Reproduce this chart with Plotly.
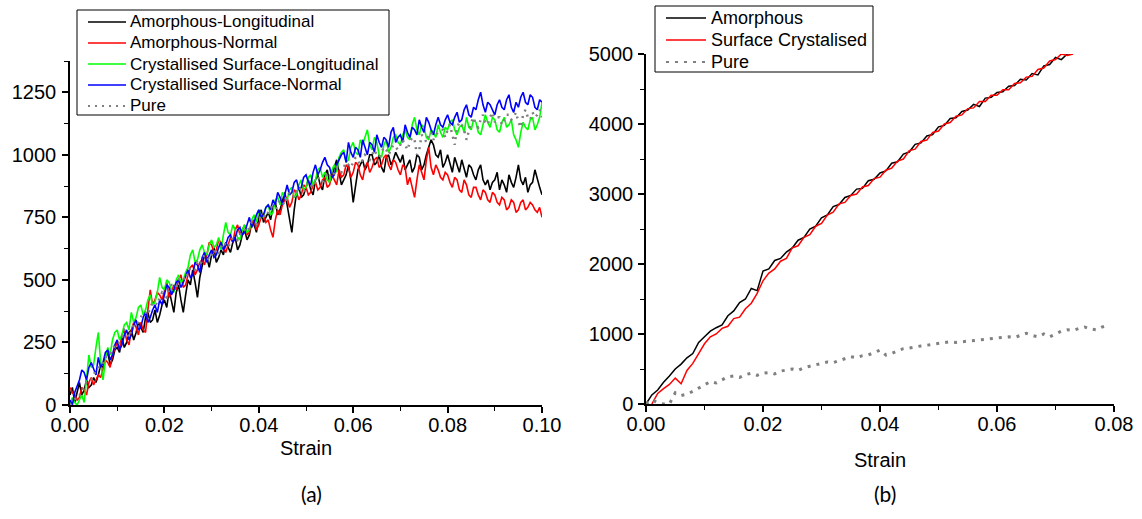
import plotly.graph_objects as go

# ---------------- Panel (a) data (strain step 0.0005) ----------------
strain_a = [
    0.0000, 0.0005, 0.0010, 0.0015, 0.0020, 0.0025, 0.0030, 0.0035, 0.0040, 0.0045,
    0.0050, 0.0055, 0.0060, 0.0065, 0.0070, 0.0075, 0.0080, 0.0085, 0.0090, 0.0095,
    0.0100, 0.0105, 0.0110, 0.0115, 0.0120, 0.0125, 0.0130, 0.0135, 0.0140, 0.0145,
    0.0150, 0.0155, 0.0160, 0.0165, 0.0170, 0.0175, 0.0180, 0.0185, 0.0190, 0.0195,
    0.0200, 0.0205, 0.0210, 0.0215, 0.0220, 0.0225, 0.0230, 0.0235, 0.0240, 0.0245,
    0.0250, 0.0255, 0.0260, 0.0265, 0.0270, 0.0275, 0.0280, 0.0285, 0.0290, 0.0295,
    0.0300, 0.0305, 0.0310, 0.0315, 0.0320, 0.0325, 0.0330, 0.0335, 0.0340, 0.0345,
    0.0350, 0.0355, 0.0360, 0.0365, 0.0370, 0.0375, 0.0380, 0.0385, 0.0390, 0.0395,
    0.0400, 0.0405, 0.0410, 0.0415, 0.0420, 0.0425, 0.0430, 0.0435, 0.0440, 0.0445,
    0.0450, 0.0455, 0.0460, 0.0465, 0.0470, 0.0475, 0.0480, 0.0485, 0.0490, 0.0495,
    0.0500, 0.0505, 0.0510, 0.0515, 0.0520, 0.0525, 0.0530, 0.0535, 0.0540, 0.0545,
    0.0550, 0.0555, 0.0560, 0.0565, 0.0570, 0.0575, 0.0580, 0.0585, 0.0590, 0.0595,
    0.0600, 0.0605, 0.0610, 0.0615, 0.0620, 0.0625, 0.0630, 0.0635, 0.0640, 0.0645,
    0.0650, 0.0655, 0.0660, 0.0665, 0.0670, 0.0675, 0.0680, 0.0685, 0.0690, 0.0695,
    0.0700, 0.0705, 0.0710, 0.0715, 0.0720, 0.0725, 0.0730, 0.0735, 0.0740, 0.0745,
    0.0750, 0.0755, 0.0760, 0.0765, 0.0770, 0.0775, 0.0780, 0.0785, 0.0790, 0.0795,
    0.0800, 0.0805, 0.0810, 0.0815, 0.0820, 0.0825, 0.0830, 0.0835, 0.0840, 0.0845,
    0.0850, 0.0855, 0.0860, 0.0865, 0.0870, 0.0875, 0.0880, 0.0885, 0.0890, 0.0895,
    0.0900, 0.0905, 0.0910, 0.0915, 0.0920, 0.0925, 0.0930, 0.0935, 0.0940, 0.0945,
    0.0950, 0.0955, 0.0960, 0.0965, 0.0970, 0.0975, 0.0980, 0.0985, 0.0990, 0.0995,
    0.1000,
]

amorphous_long = [
    40, 70, 10, 50, 90, 40, 60, 100, 70, 80, 110, 90, 120, 160, 150, 190, 210, 160, 180, 220,
    230, 210, 270, 230, 250, 290, 300, 260, 290, 330, 310, 290, 350, 370, 330, 340, 380, 330, 360, 400,
    420, 390, 460, 410, 370, 450, 480, 420, 370, 440, 500, 480, 540, 490, 430, 510, 560, 600, 590, 550,
    600, 630, 570, 590, 620, 600, 650, 630, 610, 650, 670, 620, 640, 680, 700, 660, 680, 730, 720, 690,
    750, 780, 730, 750, 770, 740, 790, 810, 760, 780, 820, 850, 800, 740, 690, 780, 850, 870, 830, 840,
    870, 900, 860, 840, 900, 920, 880, 860, 920, 940, 890, 910, 950, 980, 930, 880, 900, 920, 960, 900,
    810, 880, 940, 960, 980, 940, 960, 1000, 1000, 960, 970, 1000, 950, 930, 990, 1000, 960, 980, 1010, 990,
    970, 1000, 940, 960, 980, 930, 950, 1000, 990, 940, 960, 1000, 1030, 1060, 1040, 1000, 990, 1020, 950, 970,
    1000, 960, 930, 990, 960, 930, 980, 940, 910, 960, 950, 920, 900, 940, 960, 900, 880, 900, 860, 890,
    900, 930, 860, 900, 880, 850, 920, 890, 870, 910, 960, 900, 880, 910, 850, 880, 890, 940, 900, 870,
    840,
]

amorphous_norm = [
    70, 50, 40, 20, 30, 70, 60, 40, 90, 110, 80, 100, 120, 110, 140, 180, 170, 150, 200, 230,
    250, 220, 280, 300, 260, 240, 300, 330, 310, 280, 330, 300, 290, 380, 460, 400, 420, 450, 440, 420,
    460, 490, 430, 450, 480, 460, 500, 520, 470, 480, 520, 550, 560, 520, 540, 570, 580, 560, 600, 650,
    640, 610, 620, 660, 650, 630, 610, 640, 670, 650, 700, 720, 680, 700, 720, 680, 690, 730, 740, 700,
    720, 750, 760, 730, 740, 700, 670, 740, 780, 760, 800, 820, 830, 790, 810, 860, 850, 820, 840, 880,
    870, 840, 850, 880, 890, 860, 870, 900, 910, 870, 880, 920, 900, 880, 940, 910, 920, 960, 950, 910,
    930, 970, 960, 920, 900, 950, 970, 930, 950, 980, 990, 950, 960, 990, 1000, 960, 940, 980, 970, 940,
    920, 960, 950, 880, 910, 870, 830, 900, 960, 930, 900, 980, 1030, 950, 920, 960, 940, 910, 900, 930,
    920, 890, 870, 910, 900, 860, 850, 900, 880, 840, 830, 870, 870, 840, 820, 860, 850, 820, 810, 850,
    840, 810, 800, 830, 820, 780, 790, 820, 810, 770, 780, 810, 820, 780, 790, 810, 800, 780, 770, 790,
    750,
]

cryst_long = [
    0, 30, 10, 0, 20, 40, 10, 120, 200, 150, 160, 230, 290, 170, 100, 180, 230, 200, 260, 290,
    300, 260, 280, 320, 330, 300, 370, 330, 350, 390, 400, 360, 380, 420, 440, 400, 410, 450, 510, 470,
    460, 500, 490, 460, 450, 500, 520, 490, 500, 530, 550, 600, 620, 570, 580, 620, 640, 610, 600, 640,
    660, 630, 640, 670, 620, 680, 730, 690, 680, 720, 700, 670, 660, 700, 720, 690, 700, 740, 760, 730,
    780, 760, 750, 790, 800, 760, 770, 820, 830, 800, 850, 830, 820, 860, 870, 830, 840, 880, 900, 860,
    870, 910, 920, 880, 900, 940, 950, 910, 930, 900, 890, 940, 960, 930, 990, 1010, 1020, 970, 980, 1030,
    1050, 1010, 1000, 1060, 1040, 1070, 1100, 1040, 1020, 1070, 1050, 1000, 990, 1040, 1060, 1010, 1030, 1070, 1080, 1050,
    1040, 1080, 1100, 1070, 1060, 1120, 1150, 1100, 1080, 1120, 1110, 1070, 1060, 1100, 1090, 1070, 1120, 1090, 1070, 1110,
    1100, 1130, 1140, 1100, 1080, 1110, 1120, 1090, 1150, 1110, 1100, 1140, 1130, 1090, 1080, 1120, 1160, 1130, 1110, 1150,
    1140, 1100, 1090, 1130, 1150, 1110, 1120, 1140, 1080, 1060, 1030, 1090, 1130, 1110, 1100, 1140, 1150, 1100, 1120, 1150,
    1210,
]

cryst_norm = [
    20, 0, 50, 80, 100, 140, 130, 100, 150, 170, 140, 120, 190, 150, 170, 210, 220, 180, 200, 240,
    260, 220, 240, 280, 300, 260, 280, 320, 340, 300, 310, 350, 370, 330, 350, 380, 400, 370, 420, 400,
    440, 480, 470, 440, 460, 490, 500, 470, 490, 520, 540, 510, 520, 570, 560, 530, 590, 610, 570, 600,
    620, 590, 600, 630, 650, 620, 640, 670, 680, 650, 670, 700, 710, 680, 690, 720, 750, 710, 730, 760,
    780, 750, 760, 790, 800, 780, 820, 800, 850, 830, 800, 840, 880, 840, 850, 890, 900, 860, 870, 910,
    920, 890, 880, 930, 960, 920, 940, 970, 990, 960, 950, 910, 920, 960, 980, 1000, 1010, 970, 1050, 1010,
    990, 1030, 1020, 990, 1060, 1030, 1000, 1050, 1040, 1010, 1080, 1050, 1030, 1070, 1060, 1030, 1090, 1110, 1050, 1070,
    1080, 1050, 1120, 1090, 1070, 1110, 1100, 1080, 1140, 1110, 1090, 1150, 1130, 1100, 1080, 1120, 1150, 1120, 1110, 1140,
    1160, 1130, 1120, 1150, 1170, 1130, 1140, 1180, 1200, 1160, 1150, 1190, 1180, 1220, 1250, 1200, 1170, 1210, 1200, 1180,
    1160, 1200, 1220, 1190, 1180, 1220, 1240, 1190, 1170, 1210, 1190, 1230, 1250, 1210, 1200, 1240, 1230, 1190, 1180, 1220,
    1210,
]

pure_a = [
    0, 10, 20, 40, 40, 50, 70, 90, 100, 100, 120, 140, 150, 150, 170, 190, 200, 200, 220, 240,
    250, 250, 270, 300, 290, 270, 300, 320, 330, 330, 350, 370, 370, 360, 390, 410, 410, 400, 430, 450,
    440, 430, 460, 480, 480, 470, 500, 510, 510, 500, 530, 550, 550, 540, 570, 560, 580, 600, 590, 580,
    600, 620, 610, 600, 630, 650, 640, 630, 650, 670, 670, 660, 680, 700, 700, 690, 710, 730, 730, 720,
    740, 760, 760, 750, 770, 790, 790, 780, 800, 820, 810, 800, 830, 850, 840, 830, 850, 870, 860, 850,
    870, 890, 880, 870, 890, 910, 900, 890, 910, 930, 920, 910, 930, 950, 940, 930, 950, 970, 960, 950,
    970, 990, 975, 960, 980, 1000, 990, 980, 1000, 1020, 1000, 990, 1010, 1030, 1020, 1000, 1020, 1040, 1030, 1020,
    1040, 1060, 1040, 1020, 1050, 1070, 1060, 1000, 1020, 1080, 1070, 1050, 1080, 1090, 1060, 1080, 1090, 1100, 1100, 1070,
    1100, 1120, 1080, 1040, 1110, 1130, 1120, 1100, 1060, 1090, 1130, 1150, 1120, 1110, 1140, 1160, 1130, 1120, 1150, 1170,
    1130, 1150, 1150, 1120, 1140, 1160, 1160, 1140, 1150, 1170, 1130, 1110, 1160, 1180, 1150, 1140, 1170, 1150, 1160, 1180,
    1150,
]

# ---------------- Panel (b) data (strain step 0.001) ----------------
strain_b = [
    0.000, 0.001, 0.002, 0.003, 0.004, 0.005, 0.006, 0.007, 0.008, 0.009,
    0.010, 0.011, 0.012, 0.013, 0.014, 0.015, 0.016, 0.017, 0.018, 0.019,
    0.020, 0.021, 0.022, 0.023, 0.024, 0.025, 0.026, 0.027, 0.028, 0.029,
    0.030, 0.031, 0.032, 0.033, 0.034, 0.035, 0.036, 0.037, 0.038, 0.039,
    0.040, 0.041, 0.042, 0.043, 0.044, 0.045, 0.046, 0.047, 0.048, 0.049,
    0.050, 0.051, 0.052, 0.053, 0.054, 0.055, 0.056, 0.057, 0.058, 0.059,
    0.060, 0.061, 0.062, 0.063, 0.064, 0.065, 0.066, 0.067, 0.068, 0.069,
    0.070, 0.071, 0.072, 0.073, 0.074, 0.075, 0.076, 0.077, 0.078, 0.079,
]

amorphous_b = [
    0, 130, 200, 310, 400, 500, 570, 660, 720, 880,
    960, 1040, 1090, 1130, 1260, 1330, 1450, 1500, 1650, 1620,
    1900, 1930, 2050, 2080, 2170, 2230, 2340, 2380, 2500, 2540,
    2660, 2700, 2820, 2850, 2950, 2980, 3070, 3080, 3190, 3210,
    3300, 3330, 3440, 3460, 3570, 3600, 3710, 3730, 3830, 3850,
    3960, 3980, 4080, 4090, 4180, 4200, 4280, 4250, 4370, 4380,
    4450, 4460, 4540, 4550, 4640, 4630, 4720, 4700, 4830, 4850,
    4950, 4920, 5000, 5000,
]

surface_cryst_b = [
    None, 0, 150, 220, 280, 370, 290, 480, 580, 720,
    860, 960, 1000, 1080, 1110, 1220, 1240, 1360, 1440, 1580,
    1760, 1870, 1930, 2040, 2080, 2230, 2260, 2380, 2420, 2540,
    2580, 2700, 2740, 2860, 2880, 2980, 3000, 3100, 3120, 3220,
    3240, 3340, 3370, 3470, 3500, 3620, 3640, 3750, 3770, 3880,
    3900, 4000, 4020, 4110, 4130, 4220, 4230, 4320, 4320, 4410,
    4410, 4490, 4490, 4580, 4590, 4670, 4680, 4780, 4800, 4900,
    4920, 5000, 4980, 5000,
]

pure_b = [
    0, 60, 20, 0, 0, 160, 120, 140, 180, 230,
    280, 320, 300, 350, 390, 400, 380, 420, 440, 410,
    440, 450, 430, 470, 480, 500, 480, 520, 540, 560,
    585, 600, 590, 620, 650, 676, 660, 690, 700, 730,
    770, 700, 720, 760, 790, 800, 820, 830, 840, 850,
    870, 880, 890, 880, 890, 900, 900, 910, 920, 930,
    940, 950, 960, 950, 980, 1010, 980, 960, 1000, 960,
    1000, 1040, 1060, 1050, 1080, 1100, 1070, 1060, 1100, 1130,
]

W, H = 1142, 519
FONT = "Liberation Sans, Arial, sans-serif"
DOT_A = "2px,5px"
DOT_B = "3px,6px"

series_a = [
    ("Amorphous-Longitudinal", amorphous_long, "#000000", "solid", 1.6),
    ("Amorphous-Normal", amorphous_norm, "#ff0000", "solid", 1.6),
    ("Crystallised Surface-Longitudinal", cryst_long, "#00ff00", "solid", 1.6),
    ("Crystallised Surface-Normal", cryst_norm, "#0000ff", "solid", 1.6),
    ("Pure", pure_a, "#808080", DOT_A, 2.5),
]
series_b = [
    ("Amorphous", amorphous_b, "#000000", "solid", 1.5),
    ("Surface Crystalised", surface_cryst_b, "#ff0000", "solid", 1.5),
    ("Pure", pure_b, "#808080", DOT_B, 3),
]

fig = go.Figure()
for name, ys, col, dash, w in series_a:
    fig.add_trace(go.Scatter(
        x=strain_a, y=ys, name=name, mode="lines", showlegend=False,
        line=dict(color=col, width=w, dash=dash), xaxis="x", yaxis="y",
    ))
for name, ys, col, dash, w in series_b:
    fig.add_trace(go.Scatter(
        x=strain_b, y=ys, name=name, mode="lines", showlegend=False,
        line=dict(color=col, width=w, dash=dash), xaxis="x2", yaxis="y2",
    ))

axis_common = dict(
    showline=True, linecolor="black", linewidth=1.5,
    ticks="outside", ticklen=6, tickwidth=1.5, tickcolor="black",
    showgrid=False, zeroline=False, mirror=False, automargin=False,
    tickfont=dict(family=FONT, size=20, color="black"),
)
minor_common = dict(ticks="outside", ticklen=4, tickcolor="black", tickwidth=1.2)

fig.update_layout(
    width=W, height=H,
    margin=dict(l=0, r=0, t=0, b=0, autoexpand=False),
    paper_bgcolor="white", plot_bgcolor="white",
    font=dict(family=FONT, color="black"),
    showlegend=False,
    xaxis=dict(
        domain=[70 / W, 542 / W], anchor="y",
        range=[0, 0.1], dtick=0.02, tick0=0, tickformat=".2f",
        minor=dict(dtick=0.01, **minor_common), ticklabelstandoff=-5,
        title=dict(text="Strain", font=dict(family=FONT, size=20), standoff=6),
        **axis_common,
    ),
    yaxis=dict(
        domain=[(H - 405) / H, (H - 61) / H], anchor="x",
        range=[0, 1375], dtick=250, tick0=0,
        minor=dict(dtick=125, **minor_common), ticklabelstandoff=2,
        **axis_common,
    ),
    xaxis2=dict(
        domain=[646 / W, 1114 / W], anchor="y2",
        range=[0, 0.08], dtick=0.02, tick0=0, tickformat=".2f",
        minor=dict(dtick=0.01, **minor_common), ticklabelstandoff=-5,
        title=dict(text="Strain", font=dict(family=FONT, size=20), standoff=19),
        **axis_common,
    ),
    yaxis2=dict(
        domain=[(H - 404) / H, (H - 54) / H], anchor="x2",
        range=[0, 5000], dtick=1000, tick0=0,
        minor=dict(dtick=500, **minor_common), ticklabelstandoff=1,
        **axis_common,
    ),
)


def px(x):
    return x / W


def py(y):
    return 1 - y / H


def add_legend(entries, box, line_x, text_x, rows, size):
    x0, y0, x1, y1 = box
    fig.add_shape(type="rect", xref="paper", yref="paper",
                  x0=px(x0), x1=px(x1), y0=py(y0), y1=py(y1),
                  line=dict(color="black", width=1), fillcolor="white", layer="above")
    for (name, _ys, col, dash, w), ry in zip(entries, rows):
        fig.add_shape(type="line", xref="paper", yref="paper",
                      x0=px(line_x[0]), x1=px(line_x[1]), y0=py(ry), y1=py(ry),
                      line=dict(color=col, width=min(w, 2.2), dash=dash), layer="above")
        fig.add_annotation(text=name, xref="paper", yref="paper",
                           x=px(text_x), y=py(ry), xanchor="left", yanchor="middle",
                           showarrow=False, font=dict(family=FONT, size=size, color="black"))


add_legend(series_a, (77, 10, 389, 115), (88, 126), 128, [22, 43, 64, 85, 106], 17)
add_legend(series_b, (655, 6, 873, 72), (666, 706), 709, [18, 40, 62], 18)

fig.add_annotation(text="(a)", x=px(312), y=py(493), xref="paper", yref="paper",
                   xanchor="center", yanchor="middle", showarrow=False,
                   font=dict(family="Lato, Open Sans, sans-serif", size=21, color="black"))
fig.add_annotation(text="(b)", x=px(885), y=py(493), xref="paper", yref="paper",
                   xanchor="center", yanchor="middle", showarrow=False,
                   font=dict(family="Lato, Open Sans, sans-serif", size=21, color="black"))

fig.write_html("out.html")
